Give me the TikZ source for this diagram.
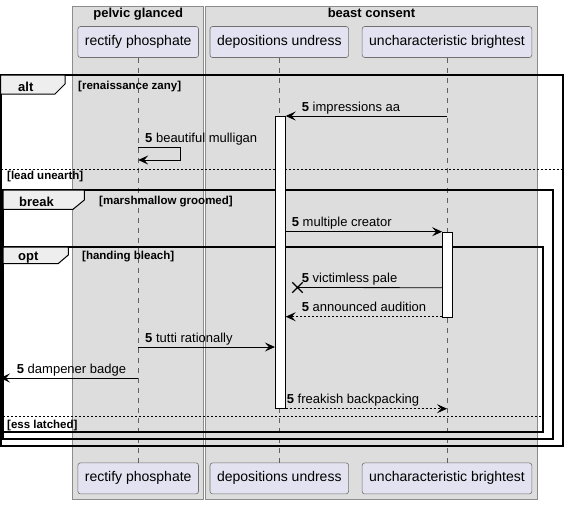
\documentclass[tikz,border=0pt]{standalone}
\usepackage{fontspec}
\setmainfont{Liberation Sans}
\usetikzlibrary{arrows.meta, shapes.misc}

\definecolor{grpfill}{HTML}{DDDDDD}
\definecolor{grpline}{HTML}{8C8C8C}
\definecolor{partfill}{HTML}{E2E2F0}
\definecolor{partline}{HTML}{707070}
\definecolor{tabfill}{HTML}{EEEEEE}

\tikzset{
	grpbox/.style = {fill=grpfill, draw=grpline, line width=0.7pt},
	grptitle/.style = {font=\fontsize{13}{15}\selectfont\bfseries, anchor=base, inner sep=0pt},
	partbox/.style = {draw=partline, fill=partfill, rounded corners=2.5pt, line width=0.6pt, minimum height=31pt, inner xsep=7pt, text height=10pt, text depth=3pt, font=\fontsize{14}{16}\selectfont},
	lifeline/.style = {draw=gray!75!black, line width=0.6pt, dash pattern=on 5pt off 5pt},
	actbar/.style = {draw=black, fill=white, line width=0.8pt, minimum width=10pt, inner sep=0pt},
	grpframe/.style = {draw=black, line width=2pt},
	grptab/.style = {fill=tabfill, draw=black, line width=1pt},
	tablabel/.style = {font=\fontsize{13}{15}\selectfont\bfseries, anchor=base west, inner sep=0pt},
	guard/.style = {font=\fontsize{11.5}{13}\selectfont\bfseries, anchor=base west, inner sep=0pt},
	elseline/.style = {draw=black, line width=0.8pt, dash pattern=on 2pt off 2pt},
	msg/.style = {draw=black, line width=0.8pt, -{Stealth[length=10pt, width=9pt, inset=4pt]}},
	reply/.style = {msg, dash pattern=on 2pt off 2pt},
	msglabel/.style = {font=\fontsize{13}{15}\selectfont, anchor=base west, inner sep=0pt},
	lostmark/.style = {draw=black, cross out, line width=1.3pt, minimum size=9pt, inner sep=0pt},
}
\newcommand{\seqnum}{\textbf{5} }

\begin{document}
\begin{tikzpicture}[x=1pt, y=-1pt]
	\useasboundingbox (0,0) rectangle (569,504);

	\draw[grpbox] (72.7,6) rectangle (203.7,499);
	\draw[grpbox] (205.3,6) rectangle (537.7,499);
	\node[grptitle] (pelvic) at (138.2,17.3) {pelvic glanced};
	\node[grptitle] (beast) at (371.5,17.3) {beast consent};

	\node[partbox] (rectTop) at (138.2,42) {rectify phosphate};
	\node[partbox] (depoTop) at (279.3,42) {depositions undress};
	\node[partbox] (unchTop) at (447,42) {uncharacteristic brightest};
	\node[partbox] (rectBot) at (138.2,478.4) {rectify phosphate};
	\node[partbox] (depoBot) at (279.3,478.4) {depositions undress};
	\node[partbox] (unchBot) at (447,478.4) {uncharacteristic brightest};

	\draw[lifeline] (rectTop) -- (rectBot);
	\draw[lifeline] (depoTop) -- (depoBot);
	\draw[lifeline] (unchTop) -- (unchBot);

	% alt
	\draw[grpframe] (0.5,75) rectangle (563,446);
	\draw[grptab] (0.5,75) -- (65,75) -- (65,84) -- (55,94) -- (0.5,94) -- cycle;
	\node[tablabel] (altLabel) at (18,91.5) {alt};
	\node[guard] (altGuard) at (78,89.5) {[renaissance zany]};
	\draw[elseline] (0.5,169) -- (563,169);
	\node[guard] (altElse) at (7,179.5) {[lead unearth]};

	% break
	\draw[grpframe] (3,190) rectangle (553,439);
	\draw[grptab] (3,190) -- (84.3,190) -- (84.3,200) -- (73,209.3) -- (3,209.3) -- cycle;
	\node[tablabel] (breakLabel) at (19,206) {break};
	\node[guard] (breakGuard) at (99,204.5) {[marshmallow groomed]};

	% opt
	\draw[grpframe] (3,247) rectangle (543,432);
	\draw[grptab] (3,247) -- (68.3,247) -- (68.3,255) -- (58.3,263.5) -- (3,263.5) -- cycle;
	\node[tablabel] (optLabel) at (18,260.5) {opt};
	\node[guard] (optGuard) at (82,259.5) {[handing bleach]};
	\draw[elseline] (3,416.7) -- (543,416.7);
	\node[guard] (optElse) at (7,428) {[ess latched]};

	\node[actbar, minimum height=292pt] (depoAct) at (280.3,262) {};
	\node[actbar, minimum height=85pt] (unchAct) at (447.5,274.5) {};

	\coordinate (row1) at (0,116);
	\coordinate (row2) at (0,147);
	\coordinate (row3) at (0,160);
	\coordinate (row4) at (0,231.7);
	\coordinate (row5) at (0,287.7);
	\coordinate (row6) at (0,316.7);
	\coordinate (row7) at (0,347);
	\coordinate (row8) at (0,378);
	\coordinate (row9) at (0,408.7);
	\coordinate (selfTurn) at (180.3,147);
	\node[lostmark] (lost) at (297.5,287.5) {};

	\draw[msg] (unchTop |- row1) -- (depoAct.east |- row1);
	\node[msglabel] (msgA) at (301.7,111) {\seqnum impressions aa};

	\draw[msg] (rectTop |- row2) -- (selfTurn) |- (rectTop |- row3);
	\node[msglabel] (msgB) at (145,142) {\seqnum beautiful mulligan};

	\draw[msg] (depoAct.east |- row4) -- (unchAct.west |- row4);
	\node[msglabel] (msgC) at (291.7,226.7) {\seqnum multiple creator};

	\draw[draw=black, line width=0.8pt] (unchAct.west |- row5) -- (lost.center);
	\node[msglabel] (msgD) at (301.7,282.7) {\seqnum victimless pale};

	\draw[reply] (unchAct.west |- row6) -- (depoAct.east |- row6);
	\node[msglabel] (msgE) at (301.7,311.7) {\seqnum announced audition};

	\draw[msg] (rectTop |- row7) -- (depoAct.west |- row7);
	\node[msglabel] (msgF) at (145,342) {\seqnum tutti rationally};

	\draw[msg] (rectTop |- row8) -- (row8);
	\node[msglabel] (msgG) at (16.7,373) {\seqnum dampener badge};

	\draw[reply] (depoAct.east |- row9) -- (unchTop |- row9);
	\node[msglabel] (msgH) at (286.7,403.7) {\seqnum freakish backpacking};
\end{tikzpicture}
\end{document}
